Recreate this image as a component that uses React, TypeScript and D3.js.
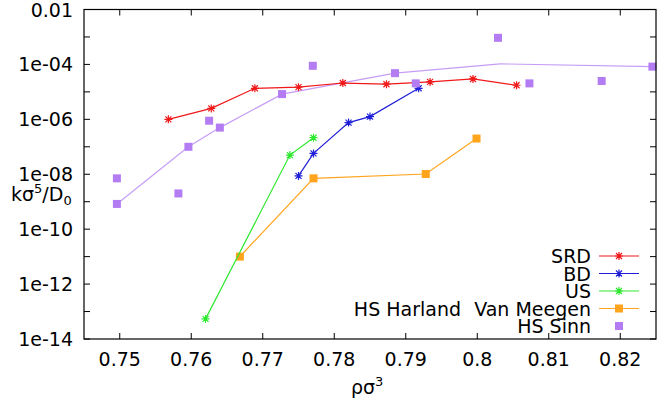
import * as d3 from 'd3';

// x values (ρσ³) and y values (kσ⁵/D₀)
const srdX = [0.7568, 0.7628, 0.7689, 0.775, 0.7812, 0.7873, 0.7934, 0.7994, 0.8055];
const srdY = [1.0e-6, 2.5e-6, 1.35e-5, 1.48e-5, 2.1e-5, 1.9e-5, 2.3e-5, 2.95e-5, 1.74e-5];

const bdX = [0.775, 0.7771, 0.782, 0.785, 0.7918];
const bdY = [8.7e-9, 5.75e-8, 7.6e-7, 1.26e-6, 1.35e-5];

const usX = [0.762, 0.7738, 0.7771];
const usY = [5.4e-14, 5.0e-8, 2.14e-7];

const vmX = [0.7668, 0.7771, 0.7928, 0.7999];
const vmY = [1.0e-11, 7.1e-9, 1.02e-8, 2.0e-7];

const harlandX = [0.7496, 0.7596, 0.764, 0.7727, 0.7885, 0.8032, 0.8245];
const harlandY = [8.3e-10, 1.0e-7, 5.0e-7, 8.3e-6, 4.8e-5, 1.05e-4, 8.3e-5];

const sinnX = [0.7496, 0.7496, 0.7582, 0.7596, 0.7625, 0.764, 0.7727, 0.777, 0.7885, 0.7914, 0.8029, 0.8073, 0.8174, 0.8245];
const sinnY = [7.1e-9, 8.3e-10, 2.0e-9, 1.0e-7, 8.9e-7, 5.0e-7, 8.3e-6, 8.9e-5, 4.8e-5, 2.04e-5, 9.3e-4, 2.04e-5, 2.5e-5, 8.3e-5];

const xTicks = [0.75, 0.76, 0.77, 0.78, 0.79, 0.8, 0.81, 0.82];
const xTickLabels = ['0.75', '0.76', '0.77', '0.78', '0.79', '0.8', '0.81', '0.82'];
const yTicks = [1e-14, 1e-12, 1e-10, 1e-8, 1e-6, 1e-4, 1e-2];
const yTickLabels = ['1e-14', '1e-12', '1e-10', '1e-08', '1e-06', '1e-04', '0.01'];
const yMinorTicks = [1e-13, 1e-11, 1e-9, 1e-7, 1e-5, 1e-3];

const RED = '#f01818';
const BLUE = '#1f1fd8';
const GREEN = '#2ee82e';
const ORANGE = '#ffa41c';
const PURPLE = '#b37cf2';
const FONT = '"DejaVu Sans", sans-serif';
const FS = 19;

const W = 660, H = 403;
const left = 84, right = 656, top = 9.5, bottom = 339;

const x = d3.scaleLinear().domain([0.745, 0.825]).range([left, right]);
const y = d3.scaleLog().domain([1e-14, 1e-2]).range([bottom, top]);

const zip = (xs: number[], ys: number[]) => xs.map((v, i) => [v, ys[i]] as [number, number]);
const line = d3.line<[number, number]>().x(d => x(d[0])).y(d => y(d[1]));

const Star = ({cx, cy, color}: {cx: number; cy: number; color: string}) => {
  const r = 4;
  return (
    <path
      d={`M${cx - r},${cy}H${cx + r}M${cx},${cy - r}V${cy + r}M${cx - r * 0.75},${cy - r * 0.75}L${cx + r * 0.75},${cy + r * 0.75}M${cx - r * 0.75},${cy + r * 0.75}L${cx + r * 0.75},${cy - r * 0.75}`}
      stroke={color}
      strokeWidth={1.2}
      fill="none"
    />
  );
};

const Square = ({cx, cy, color}: {cx: number; cy: number; color: string}) => (
  <rect x={cx - 4} y={cy - 4} width={8} height={8} fill={color} />
);

const starSeries = [
  {label: 'SRD', xs: srdX, ys: srdY, color: RED},
  {label: 'BD', xs: bdX, ys: bdY, color: BLUE},
  {label: 'US', xs: usX, ys: usY, color: GREEN},
];

export default function App() {
  const tick = 6;
  const legendX = 591;
  const legendRows = [256, 273.5, 291, 308.5, 326];

  return (
    <svg width={W} height={H} style={{position: 'absolute', left: 0, top: 0, background: '#fff'}} fontFamily={FONT}>
      {/* x ticks */}
      {xTicks.map((t, i) => (
        <g key={'xt' + i}>
          <line x1={x(t)} x2={x(t)} y1={bottom} y2={bottom - tick} stroke="#000" />
          <line x1={x(t)} x2={x(t)} y1={top} y2={top + tick} stroke="#000" />
          <text x={x(t)} y={366} fontSize={FS} textAnchor="middle" fill="#000">{xTickLabels[i]}</text>
        </g>
      ))}
      {/* y ticks */}
      {yTicks.concat(yMinorTicks).map((t, i) => (
        <g key={'yt' + i}>
          <line x1={left} x2={left + tick} y1={y(t)} y2={y(t)} stroke="#000" />
          <line x1={right} x2={right - tick} y1={y(t)} y2={y(t)} stroke="#000" />
        </g>
      ))}
      {yTicks.map((t, i) => (
        <text key={'yl' + i} x={73} y={y(t) + 7} fontSize={FS} textAnchor="end" fill="#000">{yTickLabels[i]}</text>
      ))}

      {/* axis labels */}
      <text x={11} y={201} fontSize={FS} fill="#000">
        kσ<tspan dy={-8} fontSize={13}>5</tspan><tspan dy={8}>/D</tspan><tspan dy={4} fontSize={13}>0</tspan>
      </text>
      <text x={351} y={394} fontSize={FS} fill="#000">
        ρσ<tspan dy={-8} fontSize={13}>3</tspan>
      </text>

      {/* Harland line */}
      <path d={line(zip(harlandX, harlandY)) || ''} fill="none" stroke={PURPLE} strokeOpacity={0.75} strokeWidth={1.2} />

      {/* Van Meegen */}
      <path d={line(zip(vmX, vmY)) || ''} fill="none" stroke={ORANGE} strokeWidth={1.2} />
      {vmX.map((v, i) => <Square key={'vm' + i} cx={x(v)} cy={y(vmY[i])} color={ORANGE} />)}

      {/* SRD, BD, US */}
      {starSeries.map(s => (
        <g key={s.label}>
          <path d={line(zip(s.xs, s.ys)) || ''} fill="none" stroke={s.color} strokeWidth={1.2} />
          {s.xs.map((v, i) => <Star key={i} cx={x(v)} cy={y(s.ys[i])} color={s.color} />)}
        </g>
      ))}

      {/* HS Sinn */}
      {sinnX.map((v, i) => <Square key={'sn' + i} cx={x(v)} cy={y(sinnY[i])} color={PURPLE} />)}

      {/* legend */}
      {starSeries.map((s, i) => (
        <g key={'lg' + i}>
          <text x={legendX} y={legendRows[i] + 7} fontSize={FS} textAnchor="end" fill="#000">{s.label}</text>
          <line x1={599} x2={639} y1={legendRows[i]} y2={legendRows[i]} stroke={s.color} strokeWidth={1.2} />
          <Star cx={619} cy={legendRows[i]} color={s.color} />
        </g>
      ))}
      <text x={461} y={legendRows[3] + 7} fontSize={FS} textAnchor="end" fill="#000">HS Harland</text>
      <text x={legendX} y={legendRows[3] + 7} fontSize={FS} textAnchor="end" fill="#000">Van Meegen</text>
      <line x1={599} x2={639} y1={legendRows[3]} y2={legendRows[3]} stroke={ORANGE} strokeWidth={1.2} />
      <Square cx={619} cy={legendRows[3]} color={ORANGE} />
      <text x={legendX} y={legendRows[4] + 7} fontSize={FS} textAnchor="end" fill="#000">HS Sinn</text>
      <Square cx={619} cy={legendRows[4]} color={PURPLE} />

      {/* frame */}
      <rect x={left} y={top} width={right - left} height={bottom - top} fill="none" stroke="#000" strokeWidth={1.2} />
    </svg>
  );
}
